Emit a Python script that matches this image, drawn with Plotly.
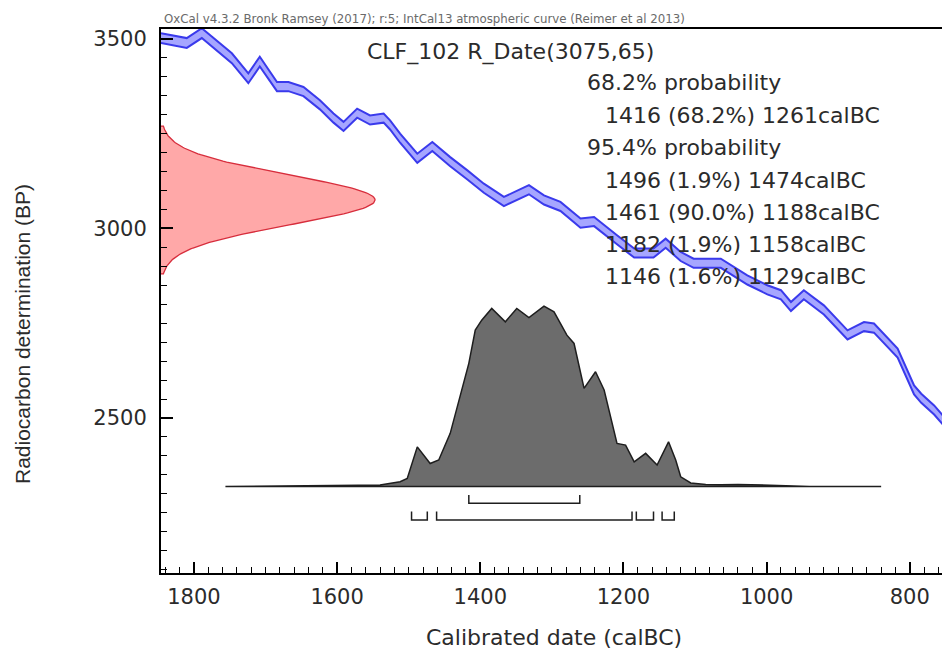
import numpy as np
import plotly.graph_objects as go

# IntCal13 atmospheric curve: calendar year (calBC), radiocarbon age (BP), 1-sigma half width
curve_years = [1846, 1810, 1789, 1759, 1747, 1724, 1708, 1684, 1668, 1647, 1624, 1605,
               1591, 1572, 1554, 1535, 1526, 1512, 1488, 1467, 1442, 1418, 1395, 1367,
               1332, 1311, 1288, 1260, 1241, 1209, 1185, 1158, 1141, 1120, 1102, 1064,
               1046, 1027, 999, 980, 966, 948, 920, 887, 864, 850, 817, 794, 784, 766, 754]
curve_bp = [3502, 3489, 3515, 3466, 3449, 3396, 3440, 3374, 3374, 3361, 3326, 3291,
            3269, 3304, 3286, 3291, 3273, 3238, 3185, 3216, 3176, 3141, 3106, 3071,
            3102, 3075, 3058, 3014, 3018, 2970, 2935, 2935, 2961, 2926, 2908, 2908,
            2886, 2864, 2838, 2825, 2794, 2825, 2785, 2719, 2741, 2737, 2671, 2574, 2552, 2521, 2495]
curve_err = [13, 13, 13, 13, 13, 13, 13, 12, 12, 12, 12, 12,
             12, 12, 12, 12, 12, 12, 12, 12, 12, 12, 12, 12,
             12, 12, 12, 12, 12, 12, 12, 12, 12, 12, 12, 12,
             12, 12, 12, 12, 12, 12, 12, 12, 12, 12, 12, 12, 12, 12, 12]

# Radiocarbon measurement
sample_name = "CLF_102"
r_date_mean = 3075
r_date_sd = 65

# Calibrated date: relative probability against calendar year
post_years = [1756, 1700, 1640, 1610, 1570, 1540, 1512, 1502, 1488, 1470, 1458, 1442,
              1428, 1416, 1407, 1398, 1384, 1365, 1349, 1332, 1311, 1297, 1279, 1269,
              1255, 1239, 1227, 1209, 1197, 1185, 1169, 1153, 1137, 1127, 1120, 1106,
              1085, 1064, 1040, 1008, 980, 940, 840]
post_prob = [0.0, 0.001, 0.004, 0.006, 0.007, 0.009, 0.027, 0.045, 0.22, 0.128, 0.147, 0.295,
             0.497, 0.683, 0.867, 0.922, 0.987, 0.913, 0.987, 0.937, 1.0, 0.968, 0.839, 0.793,
             0.544, 0.636, 0.535, 0.239, 0.230, 0.137, 0.184, 0.119, 0.248, 0.147, 0.054, 0.02,
             0.012, 0.01, 0.012, 0.008, 0.004, 0.001, 0.0]

# Highest posterior density ranges
range_68 = [(1416, 1261)]
pct_68 = ["68.2%"]
range_95 = [(1496, 1474), (1461, 1188), (1182, 1158), (1146, 1129)]
pct_95 = ["1.9%", "90.0%", "1.9%", "1.6%"]

x_ticks = [1800, 1600, 1400, 1200, 1000, 800]
y_ticks = [2500, 3000, 3500]

header = "OxCal v4.3.2 Bronk Ramsey (2017); r:5; IntCal13 atmospheric curve (Reimer et al 2013)"
x_title = "Calibrated date (calBC)"
y_title = "Radiocarbon determination (BP)"

# ---- geometry ----
W, H = 942, 655
ML, MR, MT, MB = 161, 0, 29, 82
X_RANGE = [1846, 755]
Y_RANGE = [2091, 3526]
PW, PH = W - ML - MR, H - MT - MB

def px(x):
    return (x - ML) / PW

def py(y):
    return (H - MB - y) / PH

SANS = "DejaVu Sans"
ARIAL = "Liberation Sans, Arial"
INK = "#2b2b2b"

fig = go.Figure()

# calibration curve band
upper = [b + e for b, e in zip(curve_bp, curve_err)]
lower = [b - e for b, e in zip(curve_bp, curve_err)]
blue = "rgb(58,58,236)"
fig.add_trace(go.Scatter(x=curve_years, y=lower, mode="lines",
                         line=dict(color=blue, width=2), hoverinfo="skip"))
fig.add_trace(go.Scatter(x=curve_years, y=upper, mode="lines", fill="tonexty",
                         fillcolor="rgba(150,150,255,0.85)",
                         line=dict(color=blue, width=2), hoverinfo="skip"))

# measured radiocarbon date on the y axis
gauss_len = 299  # years of the x axis used for the peak of the date distribution
gy = np.linspace(r_date_mean - 3 * r_date_sd, r_date_mean + 3 * r_date_sd, 161)
gx = X_RANGE[0] - gauss_len * np.exp(-0.5 * ((gy - r_date_mean) / r_date_sd) ** 2)
fig.add_trace(go.Scatter(x=[X_RANGE[0]] + list(gx) + [X_RANGE[0]],
                         y=[gy[0]] + list(gy) + [gy[-1]],
                         mode="lines", fill="toself", fillcolor="rgb(255,168,168)",
                         line=dict(color="rgb(215,45,60)", width=1.3), hoverinfo="skip"))

# calibrated distribution
base = 2319
peak_h = 476
dy = [base + p * peak_h for p in post_prob]
fig.add_trace(go.Scatter(x=post_years + [post_years[0]], y=dy + [dy[0]],
                         mode="lines", fill="toself", fillcolor="rgb(108,108,108)",
                         line=dict(color="rgb(30,30,30)", width=1.5), hoverinfo="skip"))

# range brackets
def brackets(ranges, y_line, y_tip):
    bx, by = [], []
    for a, b in ranges:
        bx += [a, a, b, b, None]
        by += [y_tip, y_line, y_line, y_tip, None]
    return bx, by

for ranges, yl, yt in [(range_68, 2275, 2297), (range_95, 2231, 2253)]:
    bx, by = brackets(ranges, yl, yt)
    fig.add_trace(go.Scatter(x=bx, y=by, mode="lines",
                             line=dict(color="rgb(30,30,30)", width=1.5), hoverinfo="skip"))

# ---- text ----
ann = []
ann.append(dict(text=header, x=px(162), y=py(19), xanchor="left", yanchor="middle",
                font=dict(family=SANS, size=11.8, color="#6a6a6a")))
ann.append(dict(text=f"{sample_name} R_Date({r_date_mean},{r_date_sd})", x=px(510), y=py(52),
                xanchor="center", yanchor="middle", font=dict(family=SANS, size=22, color=INK)))

lines = [("68.2% probability", 585)]
lines += [(f"{a} ({p}) {b}calBC", 603) for (a, b), p in zip(range_68, pct_68)]
lines += [("95.4% probability", 585)]
lines += [(f"{a} ({p}) {b}calBC", 603) for (a, b), p in zip(range_95, pct_95)]
line_y = [83, 115, 147.5, 180, 212.5, 244, 276.5]
for (t, x0), y0 in zip(lines, line_y):
    ann.append(dict(text=t, x=px(x0), y=py(y0), xanchor="left", yanchor="middle",
                    font=dict(family=SANS, size=22, color=INK)))

ann.append(dict(text=x_title, x=px(554), y=py(637), xanchor="center", yanchor="middle",
                font=dict(family=SANS, size=22, color=INK)))
ann.append(dict(text=y_title, x=px(22), y=py(334), xanchor="center", yanchor="middle",
                textangle=-90, font=dict(family=ARIAL, size=21, color=INK)))
for a in ann:
    a.update(xref="paper", yref="paper", showarrow=False)

fig.update_layout(
    width=W, height=H,
    margin=dict(l=ML, r=MR, t=MT, b=MB, pad=0),
    paper_bgcolor="white", plot_bgcolor="white",
    showlegend=False,
    annotations=ann,
    xaxis=dict(range=X_RANGE, autorange=False, tickmode="array", tickvals=x_ticks,
               ticktext=[str(v) for v in x_ticks],
               ticks="inside", ticklen=11, tickwidth=1.6, tickcolor="black",
               minor=dict(dtick=20, tick0=0, ticks="inside", ticklen=6, tickwidth=1.3,
                          tickcolor="black"),
               showline=True, linecolor="black", linewidth=2, mirror=True,
               showgrid=False, zeroline=False, ticklabelstandoff=4,
               tickfont=dict(family=SANS, size=21, color=INK)),
    yaxis=dict(range=Y_RANGE, autorange=False, tickmode="array", tickvals=y_ticks,
               ticktext=[str(v) for v in y_ticks],
               ticks="inside", ticklen=12, tickwidth=1.6, tickcolor="black",
               minor=dict(dtick=50, tick0=0, ticks="inside", ticklen=6, tickwidth=1.3,
                          tickcolor="black"),
               showline=True, linecolor="black", linewidth=2,
               showgrid=False, zeroline=False, ticklabelstandoff=8,
               tickfont=dict(family=SANS, size=21, color=INK)),
)

fig.write_html("out.html")
